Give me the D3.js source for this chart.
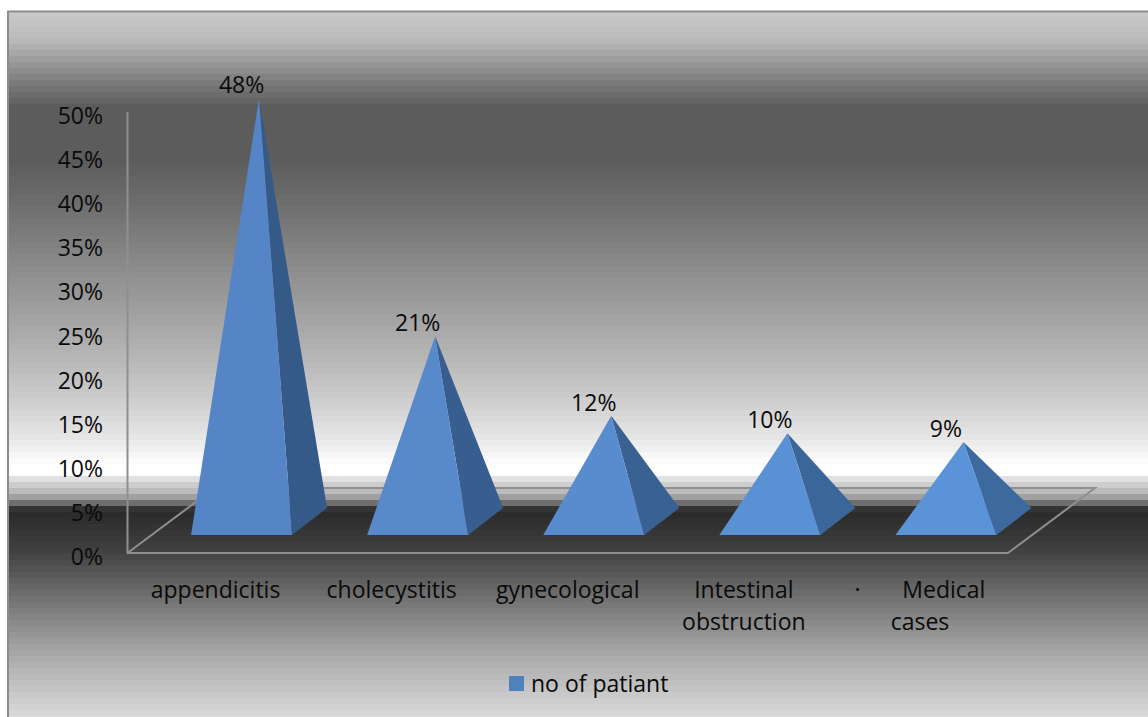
<!DOCTYPE html>
<html>
<head>
<meta charset="utf-8">
<style>
  html, body { margin: 0; background: #fff; }
  svg { display: block; }
  text { font-family: "Open Sans", "Noto Sans", sans-serif; fill: #0a0a0a; white-space: pre; }
</style>
</head>
<body>
<svg id="chart" width="1148" height="717"></svg>
<script src="https://cdnjs.cloudflare.com/ajax/libs/d3/7.8.5/d3.min.js"></script>
<script>
const categories = ["appendicitis", "cholecystitis", "gynecological", "Intestinal obstruction", "Medical cases"];
const categoryLines = [["appendicitis"], ["cholecystitis"], ["gynecological"], ["Intestinal", "obstruction"], ["·\u00a0\u00a0\u00a0\u00a0\u00a0\u00a0\u00a0Medical", "cases"]];
const patientShare = [48, 21, 12, 10, 9];
const yTicks = [0, 5, 10, 15, 20, 25, 30, 35, 40, 45, 50];
const seriesName = "no of patiant";

// Grey levels of the panel fill, as [y, grey] pairs down the page.
const panelStops = [[11, 202], [40, 186], [60, 156], [80, 126], [100, 102], [106, 92], [160, 92], [200, 108], [290, 150], [350, 178], [400, 205], [440, 232], [460, 250], [466, 255], [473, 255], [479, 225], [485, 205], [491, 187], [497, 160], [503, 110], [509, 52], [515, 44], [550, 64], [607, 122], [650, 165], [717, 218]];

const width = 1148, height = 717;
const svg = d3.select("#chart");

const panelGrey = d3.scaleLinear().domain(panelStops.map(d => d[0])).range(panelStops.map(d => d[1]));
const bandEdges = d3.range(8, height, 6);
svg.append("g").selectAll("rect").data(bandEdges).join("rect")
  .attr("x", 8).attr("y", d => Math.max(d, 11))
  .attr("width", width - 8).attr("height", d => d + 6.5 - Math.max(d, 11))
  .attr("fill", d => { const g = Math.round(panelGrey(d + 3)); return d3.rgb(g, g, g); });

svg.append("path").attr("d", `M8,${height}V11.5H${width}`)
  .attr("fill", "none").attr("stroke", "#8c8c8c").attr("stroke-width", 2);

const x = d3.scaleBand().domain(categories).range([127.5, 1008]);
const y = d3.scaleLinear().domain([0, 50]).range([553, 112]);

// Oblique projection of the floor: how far the back edge sits from the front edge.
const floorDx = 87, floorDy = -65;
// Pyramids stand inside the floor, set back from its front edge.
const baseWidth = 101, baseDx = 35, baseDy = -27, baseInset = 18, baseShift = 26;

const floor = svg.append("g").attr("fill", "none").attr("stroke", "#8f8f8f").attr("stroke-width", 2);
floor.append("path").attr("d", d3.line()([
  [x.range()[0], y(50)], [x.range()[0], y(0)], [x.range()[1], y(0)],
  [x.range()[1] + floorDx, y(0) + floorDy], [x.range()[0] + floorDx, y(0) + floorDy], [x.range()[0], y(0)]
]));

const frontY = y(0) - baseInset;
const pyramids = svg.append("g").selectAll("g").data(categories).join("g");
pyramids.each(function (c, i) {
  const g = d3.select(this);
  const cx = x(c) + x.bandwidth() / 2 + baseShift;
  const left = cx - baseWidth / 2, right = cx + baseWidth / 2;
  const apexX = cx + baseDx / 2;
  const apexY = frontY + baseDy / 2 - (y(0) - y(patientShare[i]));
  const faceTone = d3.interpolateRgb("#5585c6", "#5b93d8")(i / 4);
  const sideTone = d3.interpolateRgb("#355a88", "#3d6a9e")(i / 4);
  g.append("path").attr("fill", sideTone)
    .attr("d", d3.line()([[right, frontY], [right + baseDx, frontY + baseDy], [apexX, apexY]]));
  g.append("path").attr("fill", faceTone)
    .attr("d", d3.line()([[left, frontY], [right, frontY], [apexX, apexY]]));
  g.append("text").attr("x", cx).attr("y", apexY - 5)
    .attr("text-anchor", "middle").attr("font-size", 23).text(patientShare[i] + "%");
});

svg.append("g").selectAll("text").data(yTicks).join("text")
  .attr("x", 103).attr("y", d => y(d) + 12)
  .attr("text-anchor", "end").attr("font-size", 23).text(d => d + "%");

const catLabels = svg.append("g").selectAll("text").data(categories).join("text")
  .attr("text-anchor", "middle").attr("font-size", 23);
catLabels.each(function (c, i) {
  d3.select(this).selectAll("tspan").data(categoryLines[i]).join("tspan")
    .attr("x", x(c) + x.bandwidth() / 2).attr("y", (d, j) => 598 + j * 32).text(d => d);
});

svg.append("rect").attr("x", 509).attr("y", 676).attr("width", 15).attr("height", 15).attr("fill", "#4f81bd");
svg.append("text").attr("x", 531).attr("y", 692).attr("font-size", 23).text(seriesName);
</script>
</body>
</html>
